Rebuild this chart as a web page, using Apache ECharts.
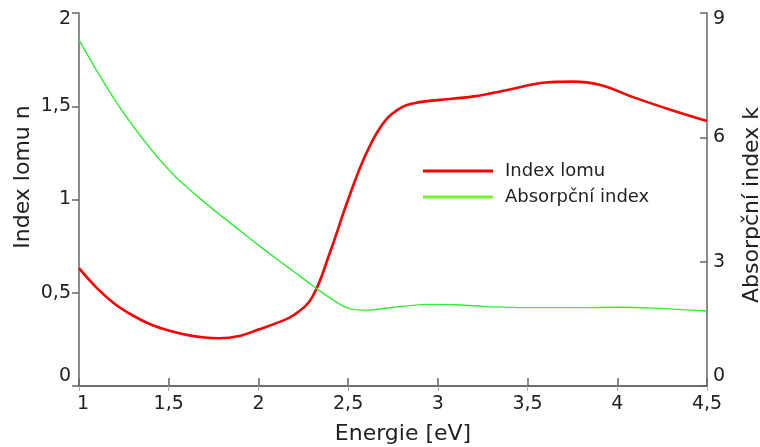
<!DOCTYPE html>
<html>
<head>
<meta charset="utf-8">
<script src="https://cdn.jsdelivr.net/npm/echarts@6/dist/echarts.min.js"></script>
<style>html,body{margin:0;padding:0;background:#fff}#c{width:760px;height:447px}</style>
</head>
<body>
<div id="c"></div>
<script>
// Index lomu n (left axis)
var nEnergy = [1.0, 1.1, 1.2, 1.3, 1.4, 1.5, 1.6, 1.7, 1.78, 1.9, 2.0, 2.1, 2.2, 2.3, 2.4, 2.5, 2.6, 2.7, 2.8, 2.9, 3.0, 3.2, 3.4, 3.6, 3.75, 3.9, 4.1, 4.3, 4.5];
var nValues = [0.632, 0.525, 0.44, 0.378, 0.33, 0.297, 0.274, 0.26, 0.256, 0.27, 0.303, 0.337, 0.382, 0.477, 0.72, 1.0, 1.245, 1.415, 1.495, 1.522, 1.533, 1.553, 1.59, 1.627, 1.632, 1.615, 1.545, 1.48, 1.421];
// Absorpční index k (right axis)
var kEnergy = [1.0, 1.1, 1.2, 1.3, 1.4, 1.5, 1.6, 1.7, 1.8, 1.9, 2.0, 2.1, 2.2, 2.3, 2.4, 2.5, 2.6, 2.7, 2.8, 2.95, 3.1, 3.3, 3.5, 3.8, 4.0, 4.2, 4.5];
var kValues = [8.35, 7.6, 6.9, 6.28, 5.72, 5.22, 4.8, 4.43, 4.08, 3.74, 3.4, 3.07, 2.75, 2.43, 2.12, 1.88, 1.83, 1.87, 1.92, 1.97, 1.96, 1.91, 1.89, 1.89, 1.9, 1.88, 1.81];
var seriesNames = ['Index lomu', 'Absorpční index'];
var xTitle = 'Energie [eV]';
var yLeftTitle = 'Index lomu n';
var yRightTitle = 'Absorpční index k';

function pairs(xs, ys) { return xs.map(function (x, i) { return [x, ys[i]]; }); }
function comma(v) { return String(v).replace('.', ','); }
var FONT = 'DejaVu Sans';
var axisColor = '#666';
var textColor = '#222';

var chart = echarts.init(document.getElementById('c'), null, {renderer: 'canvas'});
chart.setOption({
  animation: false,
  backgroundColor: '#fff',
  grid: {left: 79, right: 53, top: 13, bottom: 61},
  legend: {
    orient: 'vertical', left: 423, top: 162, padding: 0, itemWidth: 70, itemHeight: 3, itemGap: 8,
    icon: 'rect',
    textStyle: {fontFamily: FONT, fontSize: 18, color: textColor, padding: [0, 0, 0, 7]},
    data: [
      {name: seriesNames[0], itemStyle: {color: '#ff0000'}},
      {name: seriesNames[1], itemStyle: {color: '#77f030'}}
    ]
  },
  xAxis: [{
    type: 'value', min: 1, max: 4.5, interval: 0.5, position: 'bottom',
    axisLine: {show: true, lineStyle: {color: axisColor, width: 1.5}},
    axisTick: {show: true, inside: true, length: 8, lineStyle: {color: axisColor, width: 1.5}},
    splitLine: {show: false},
    axisLabel: {
      fontFamily: FONT, fontSize: 19, color: textColor, margin: 9,
      formatter: function (v) { return v === 1 ? '{a|1}' : comma(v); },
      rich: {a: {fontFamily: FONT, fontSize: 19, color: textColor, padding: [0, 0, 0, 8]}}
    }
  }, {
    type: 'value', min: 1, max: 4.5, interval: 0.5, position: 'top',
    axisLine: {show: true, lineStyle: {color: axisColor, width: 1.5}},
    axisTick: {show: true, inside: true, length: 5, lineStyle: {color: '#aaa', width: 1}},
    axisLabel: {show: false}, splitLine: {show: false}
  }],
  yAxis: [{
    type: 'value', min: 0, max: 2, interval: 0.5, position: 'left',
    axisLine: {show: true, lineStyle: {color: axisColor, width: 1.5}},
    axisTick: {show: true, inside: false, length: 7, lineStyle: {color: axisColor, width: 1.5}},
    splitLine: {show: false},
    axisLabel: {
      fontFamily: FONT, fontSize: 19, color: textColor, margin: 8,
      formatter: function (v) { return v === 2 ? '{t|2}' : (v === 0 ? '{b|0}' : comma(v)); },
      rich: {
        t: {fontFamily: FONT, fontSize: 19, color: textColor, padding: [12, 0, 0, 0]},
        b: {fontFamily: FONT, fontSize: 19, color: textColor, padding: [0, 0, 20, 0]}
      }
    }
  }, {
    type: 'value', min: 0, max: 9, interval: 3, position: 'right',
    axisLine: {show: true, lineStyle: {color: axisColor, width: 1.5}},
    axisTick: {show: true, inside: true, length: 7, lineStyle: {color: axisColor, width: 1.5}},
    splitLine: {show: false},
    axisLabel: {
      fontFamily: FONT, fontSize: 19, color: textColor, margin: 6,
      formatter: function (v) { return v === 9 ? '{t|9}' : (v === 0 ? '{b|0}' : String(v)); },
      rich: {
        t: {fontFamily: FONT, fontSize: 19, color: textColor, padding: [12, 0, 0, 0]},
        b: {fontFamily: FONT, fontSize: 19, color: textColor, padding: [0, 0, 20, 0]}
      }
    }
  }],
  series: [{
    name: seriesNames[0], type: 'line', xAxisIndex: 0, yAxisIndex: 0,
    data: pairs(nEnergy, nValues), smooth: 0.4, showSymbol: false,
    lineStyle: {color: '#ff0000', width: 2.6}, itemStyle: {color: '#ff0000'}
  }, {
    name: seriesNames[1], type: 'line', xAxisIndex: 0, yAxisIndex: 1,
    data: pairs(kEnergy, kValues), smooth: 0.4, showSymbol: false,
    lineStyle: {color: '#33ee33', width: 1.4}, itemStyle: {color: '#77f030'}
  }],
  graphic: [{
    type: 'text', x: 403, y: 434,
    style: {text: xTitle, font: '22px "DejaVu Sans"', fill: textColor, textAlign: 'center', textVerticalAlign: 'middle'}
  }, {
    type: 'text', x: 23, y: 177, rotation: Math.PI / 2,
    style: {text: yLeftTitle, font: '22px "DejaVu Sans"', fill: textColor, textAlign: 'center', textVerticalAlign: 'middle'}
  }, {
    type: 'text', x: 752, y: 205, rotation: Math.PI / 2,
    style: {text: yRightTitle, font: '22px "DejaVu Sans"', fill: textColor, textAlign: 'center', textVerticalAlign: 'middle'}
  }]
});
</script>
</body>
</html>
